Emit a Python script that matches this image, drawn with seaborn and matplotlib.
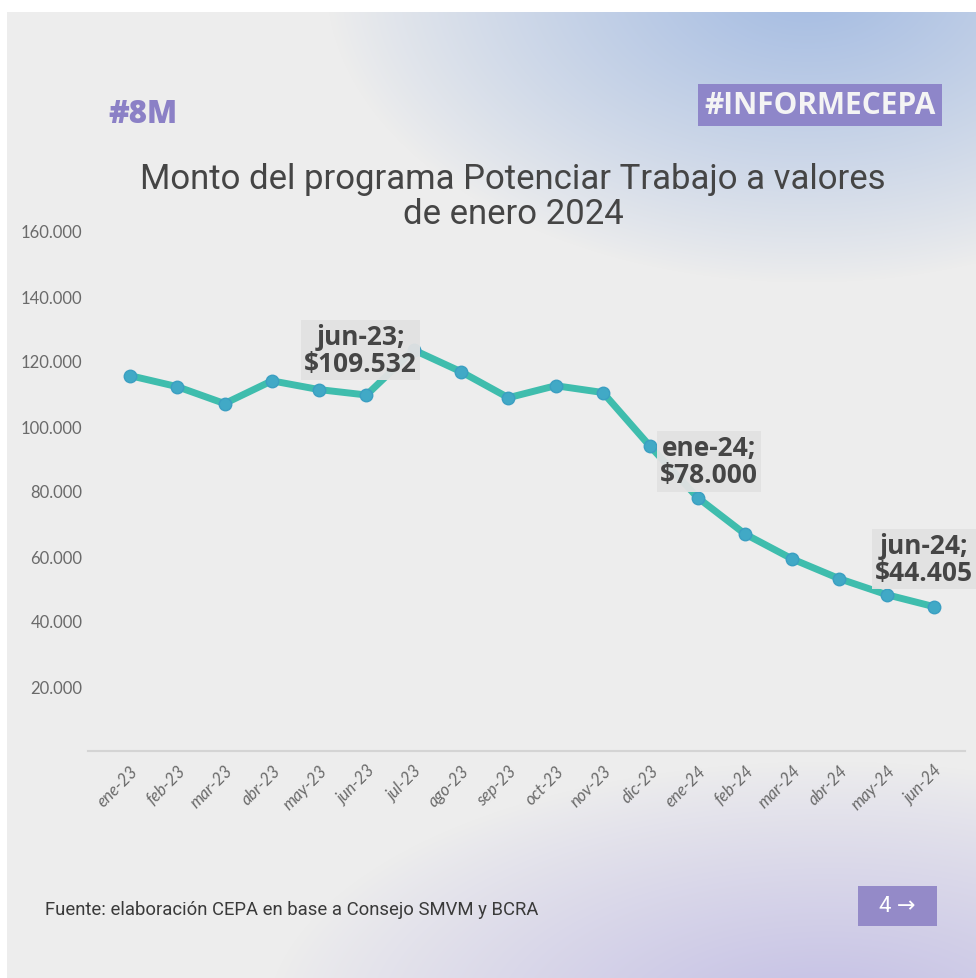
import numpy as np
import pandas as pd
import matplotlib.pyplot as plt
import seaborn as sns
from matplotlib.patches import Rectangle

# Monto del programa Potenciar Trabajo (valores de enero 2024)
meses = ['ene-23', 'feb-23', 'mar-23', 'abr-23', 'may-23', 'jun-23', 'jul-23', 'ago-23', 'sep-23',
         'oct-23', 'nov-23', 'dic-23', 'ene-24', 'feb-24', 'mar-24', 'abr-24', 'may-24', 'jun-24']
monto = [115500, 112100, 106900, 113900, 111200, 109532, 123400, 116700, 108700,
         112400, 110300, 93700, 78000, 66800, 59100, 53000, 48100, 44405]
y_ticks = [20000, 40000, 60000, 80000, 100000, 120000, 140000, 160000]

# labelled points: (mes, texto)
etiquetas = [('jun-23', 'jun-23;\n$109.532'), ('ene-24', 'ene-24;\n$78.000'), ('jun-24', 'jun-24;\n$44.405')]

df = pd.DataFrame({'mes': meses, 'monto': monto})

sns.set_theme(style='white')
plt.rcParams['font.family'] = ['Roboto', 'DejaVu Sans']

fig = plt.figure(figsize=(9.76, 9.79), dpi=100, facecolor='white')

# background card with soft blue / lavender gradients
bg = fig.add_axes([7 / 976, 0, 969 / 976, 966 / 979])
bg.set_axis_off()
h, w = 966, 969
yy, xx = np.mgrid[0:h, 0:w]
img = np.ones((h, w, 3)) * np.array([237, 237, 237]) / 255
blue = np.array([150, 178, 224]) / 255
lav = np.array([180, 174, 226]) / 255
d1 = np.sqrt(((xx - 800) / 480.0) ** 2 + ((yy + 30) / 300.0) ** 2)
a1 = np.clip(1 - d1, 0, 1) ** 0.9 * 0.85
d2 = np.sqrt(((xx - 820) / 560.0) ** 2 + ((yy - 1010) / 260.0) ** 2)
a2 = np.clip(1 - d2, 0, 1) ** 0.9 * 0.75
img = img * (1 - a1[..., None]) + blue * a1[..., None]
img = img * (1 - a2[..., None]) + lav * a2[..., None]
bg.imshow(img, aspect='auto', extent=[0, 1, 0, 1])
bg.set_xlim(0, 1)
bg.set_ylim(0, 1)

ax = fig.add_axes([88 / 976, (979 - 752) / 979, 877 / 976, 520 / 979])
ax.patch.set_alpha(0)

sns.lineplot(data=df, x='mes', y='monto', sort=False, ax=ax, color='#3fbdad', linewidth=5,
             marker='o', markersize=9, markerfacecolor='#41a9c6', markeredgecolor='#3b9fc2',
             markeredgewidth=1)

ax.set_xlim(-0.888, len(meses) - 1 + 0.655)
ax.set_ylim(0, 160000)
ax.set_yticks(y_ticks)
ax.set_yticklabels([f'{v:,}'.replace(',', '.') for v in y_ticks], fontfamily='Lato', fontsize=12,
                   color='#6a6a6a')
ax.set_xticks(range(len(meses)))
ax.set_xticklabels(meses, rotation=45, ha='right', rotation_mode='anchor', fontfamily='Lato',
                   fontstyle='italic', fontsize=12, color='#6a6a6a')
ax.tick_params(axis='both', length=0)
ax.tick_params(axis='y', pad=4)
ax.tick_params(axis='x', pad=8)
ax.set_xlabel('')
ax.set_ylabel('')
for s in ['top', 'right', 'left']:
    ax.spines[s].set_visible(False)
ax.spines['bottom'].set_color('#d4d4d4')
ax.spines['bottom'].set_linewidth(1.5)

# data labels
offsets = {'jun-23': (-0.12, 13900), 'ene-24': (0.24, 11100), 'jun-24': (-0.21, 14700)}
for mes, txt in etiquetas:
    i = meses.index(mes)
    dx, dy = offsets[mes]
    ax.text(i + dx, monto[i] + dy, txt, ha='center', va='center', fontfamily='Open Sans',
            fontweight='bold', fontsize=19, color='#454545', linespacing=1.0, zorder=5,
            bbox=dict(boxstyle='square,pad=0.12', fc='#e2e2e2', ec='none', alpha=0.95))

# header / footer
fig.text(513 / 976, 1 - 197 / 979, 'Monto del programa Potenciar Trabajo a valores\nde enero 2024',
         ha='center', va='center', fontsize=25, color='#454545', linespacing=1.05)
fig.text(108 / 976, 1 - 115 / 979, '#8M', ha='left', va='center', fontfamily='Open Sans',
         fontweight='extra bold', fontsize=22.5, color='#8b80c6')
fig.text(820 / 976, 1 - 106 / 979, '#INFORMECEPA', ha='center', va='center', fontfamily='Open Sans',
         fontweight='bold', fontsize=21.5, color='#f4f4f4',
         bbox=dict(boxstyle='square,pad=0.2', fc='#8e86c9', ec='none'))
fig.text(45 / 976, 1 - 910 / 979, 'Fuente: elaboración CEPA en base a Consejo SMVM y BCRA',
         ha='left', va='center', fontsize=13.3, color='#3a3a3a')
fig.patches.append(Rectangle((858 / 976, 1 - 927 / 979), 79 / 976, 40 / 979,
                             transform=fig.transFigure, fc='#948ac8', ec='none'))
fig.text(897 / 976, 1 - 907 / 979, '4 →', ha='center', va='center', fontsize=16, color='white')

fig.savefig('out.png', dpi=100, facecolor='white')
